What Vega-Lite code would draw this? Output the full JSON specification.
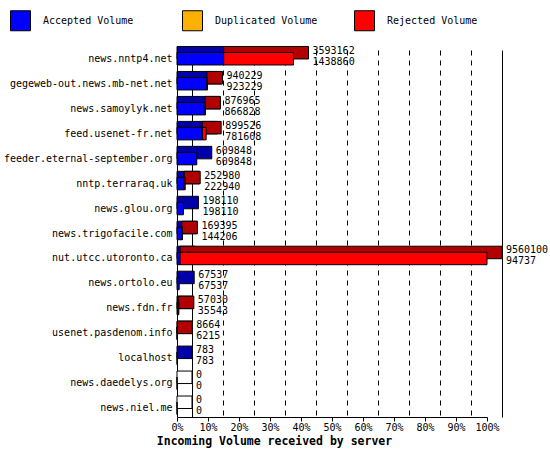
{
  "$schema": "https://vega.github.io/schema/vega-lite/v6.json",
  "width": 310,
  "height": 367,
  "autosize": {"type": "none"},
  "padding": {"left": 177, "top": 50, "right": 63, "bottom": 38},
  "background": "white",
  "data": {
    "values": [
      {"host": "news.nntp4.net", "total": 3593162, "accepted": 1438860},
      {"host": "gegeweb-out.news.mb-net.net", "total": 940229, "accepted": 923229},
      {"host": "news.samoylyk.net", "total": 876965, "accepted": 866828},
      {"host": "feed.usenet-fr.net", "total": 899526, "accepted": 781608},
      {"host": "feeder.eternal-september.org", "total": 609848, "accepted": 609848},
      {"host": "nntp.terraraq.uk", "total": 252980, "accepted": 222940},
      {"host": "news.glou.org", "total": 198110, "accepted": 198110},
      {"host": "news.trigofacile.com", "total": 169395, "accepted": 144206},
      {"host": "nut.utcc.utoronto.ca", "total": 9560100, "accepted": 94737},
      {"host": "news.ortolo.eu", "total": 67537, "accepted": 67537},
      {"host": "news.fdn.fr", "total": 57030, "accepted": 35543},
      {"host": "usenet.pasdenom.info", "total": 8664, "accepted": 6215},
      {"host": "localhost", "total": 783, "accepted": 783},
      {"host": "news.daedelys.org", "total": 0, "accepted": 0},
      {"host": "news.niel.me", "total": 0, "accepted": 0}
    ]
  },
  "resolve": {"scale": {"x": "independent"}, "axis": {"x": "independent"}},
  "layer": [
    {
      "mark": {"type": "point", "opacity": 0},
      "encoding": {
        "x": {
          "field": "total",
          "type": "quantitative",
          "scale": {"domain": [0, 9560100], "range": [15, 325], "nice": false},
          "axis": {
            "orient": "top",
            "title": null,
            "labels": false,
            "ticks": false,
            "domain": false,
            "grid": true,
            "gridColor": "black",
            "gridOpacity": 1,
            "gridWidth": 1,
            "gridDash": {"condition": {"test": "datum.value == 0 || datum.value == 9560100", "value": []}, "value": [5, 5]},
            "values": [0, 956010, 1912020, 2868030, 3824040, 4780050, 5736060, 6692070, 7648080, 8604090, 9560100]
          }
        }
      }
    },
    {
      "mark": {"type": "point", "opacity": 0},
      "encoding": {
        "x": {
          "field": "total",
          "type": "quantitative",
          "scale": {"domain": [0, 9560100], "nice": false},
          "axis": {
            "orient": "bottom",
            "title": "Incoming Volume received by server",
            "titleFont": "DejaVu Sans Mono",
            "titleFontSize": 11.5,
            "titleFontWeight": "bold",
            "titleColor": "black",
            "titleX": 97,
            "titleY": 24,
            "titleBaseline": "middle",
            "values": [0, 956010, 1912020, 2868030, 3824040, 4780050, 5736060, 6692070, 7648080, 8604090, 9560100],
            "labelExpr": "round(datum.value / 95601) + '%'",
            "labelOverlap": false,
            "labelFlush": false,
            "labelFont": "DejaVu Sans Mono",
            "labelFontSize": 10,
            "labelColor": "black",
            "labelPadding": 1,
            "tickSize": 4,
            "tickColor": "black",
            "domainColor": "black",
            "grid": false
          }
        }
      }
    },
    {
      "encoding": {
        "y": {
          "field": "host",
          "type": "nominal",
          "sort": null,
          "scale": {"paddingInner": 0.5, "paddingOuter": 0.1},
          "axis": {
            "title": null,
            "ticks": false,
            "labelPadding": 5,
            "labelLimit": 220,
            "labelFont": "DejaVu Sans Mono",
            "labelFontSize": 10,
            "labelColor": "black",
            "domainColor": "black"
          }
        }
      },
      "layer": [
        {
          "mark": {"type": "bar", "stroke": "black", "strokeWidth": 1, "xOffset": 15, "x2Offset": 0.01, "yOffset": -6},
          "encoding": {
            "x": {
              "field": "accepted",
              "type": "quantitative",
              "scale": {"domain": [0, 9560100], "nice": false},
              "axis": null
            },
            "x2": {"datum": 0},
            "color": {"condition": {"test": "datum.accepted == 0", "value": "white"}, "value": "#0000a8"}
          }
        },
        {
          "mark": {"type": "bar", "stroke": "black", "strokeWidth": 1, "xOffset": 15, "x2Offset": 0.01, "yOffset": -6},
          "encoding": {
            "x": {"field": "total", "type": "quantitative", "axis": null},
            "x2": {"field": "accepted"},
            "color": {"value": "#b00000"},
            "opacity": {"condition": {"test": "datum.total == datum.accepted", "value": 0}, "value": 1}
          }
        },
        {
          "mark": {"type": "bar", "stroke": "black", "strokeWidth": 1},
          "encoding": {
            "x": {"field": "accepted", "type": "quantitative", "axis": null},
            "color": {
              "datum": "Accepted Volume",
              "type": "nominal",
              "scale": {
                "domain": ["Accepted Volume", "Duplicated Volume", "Rejected Volume"],
                "range": ["#0000ff", "#ffb000", "#ff0000"]
              },
              "legend": {
                "orient": "none",
                "legendX": -167,
                "legendY": -40,
                "direction": "horizontal",
                "title": null,
                "gridAlign": "all",
                "columnPadding": 34,
                "symbolType": "square",
                "symbolSize": 400,
                "symbolStrokeColor": "black",
                "symbolStrokeWidth": 1,
                "symbolOpacity": 1,
                "labelFont": "DejaVu Sans Mono",
                "labelFontSize": 10,
                "labelColor": "black",
                "labelOffset": 12
              }
            }
          }
        },
        {
          "mark": {"type": "bar", "stroke": "black", "strokeWidth": 1},
          "encoding": {
            "x": {"field": "total", "type": "quantitative", "axis": null},
            "x2": {"field": "accepted"},
            "color": {"datum": "Rejected Volume", "type": "nominal"},
            "opacity": {"condition": {"test": "datum.total == datum.accepted", "value": 0}, "value": 1}
          }
        },
        {
          "mark": {"type": "text", "align": "left", "baseline": "middle", "dx": 19, "dy": -8, "font": "DejaVu Sans Mono", "fontSize": 10, "color": "black"},
          "encoding": {
            "x": {"field": "total", "type": "quantitative", "axis": null},
            "text": {"field": "total", "type": "quantitative", "format": "d"}
          }
        },
        {
          "mark": {"type": "text", "align": "left", "baseline": "middle", "dx": 19, "dy": 3, "font": "DejaVu Sans Mono", "fontSize": 10, "color": "black"},
          "encoding": {
            "x": {"field": "total", "type": "quantitative", "axis": null},
            "text": {"field": "accepted", "type": "quantitative", "format": "d"}
          }
        }
      ]
    }
  ],
  "config": {"view": {"stroke": null}, "font": "DejaVu Sans Mono"}
}
